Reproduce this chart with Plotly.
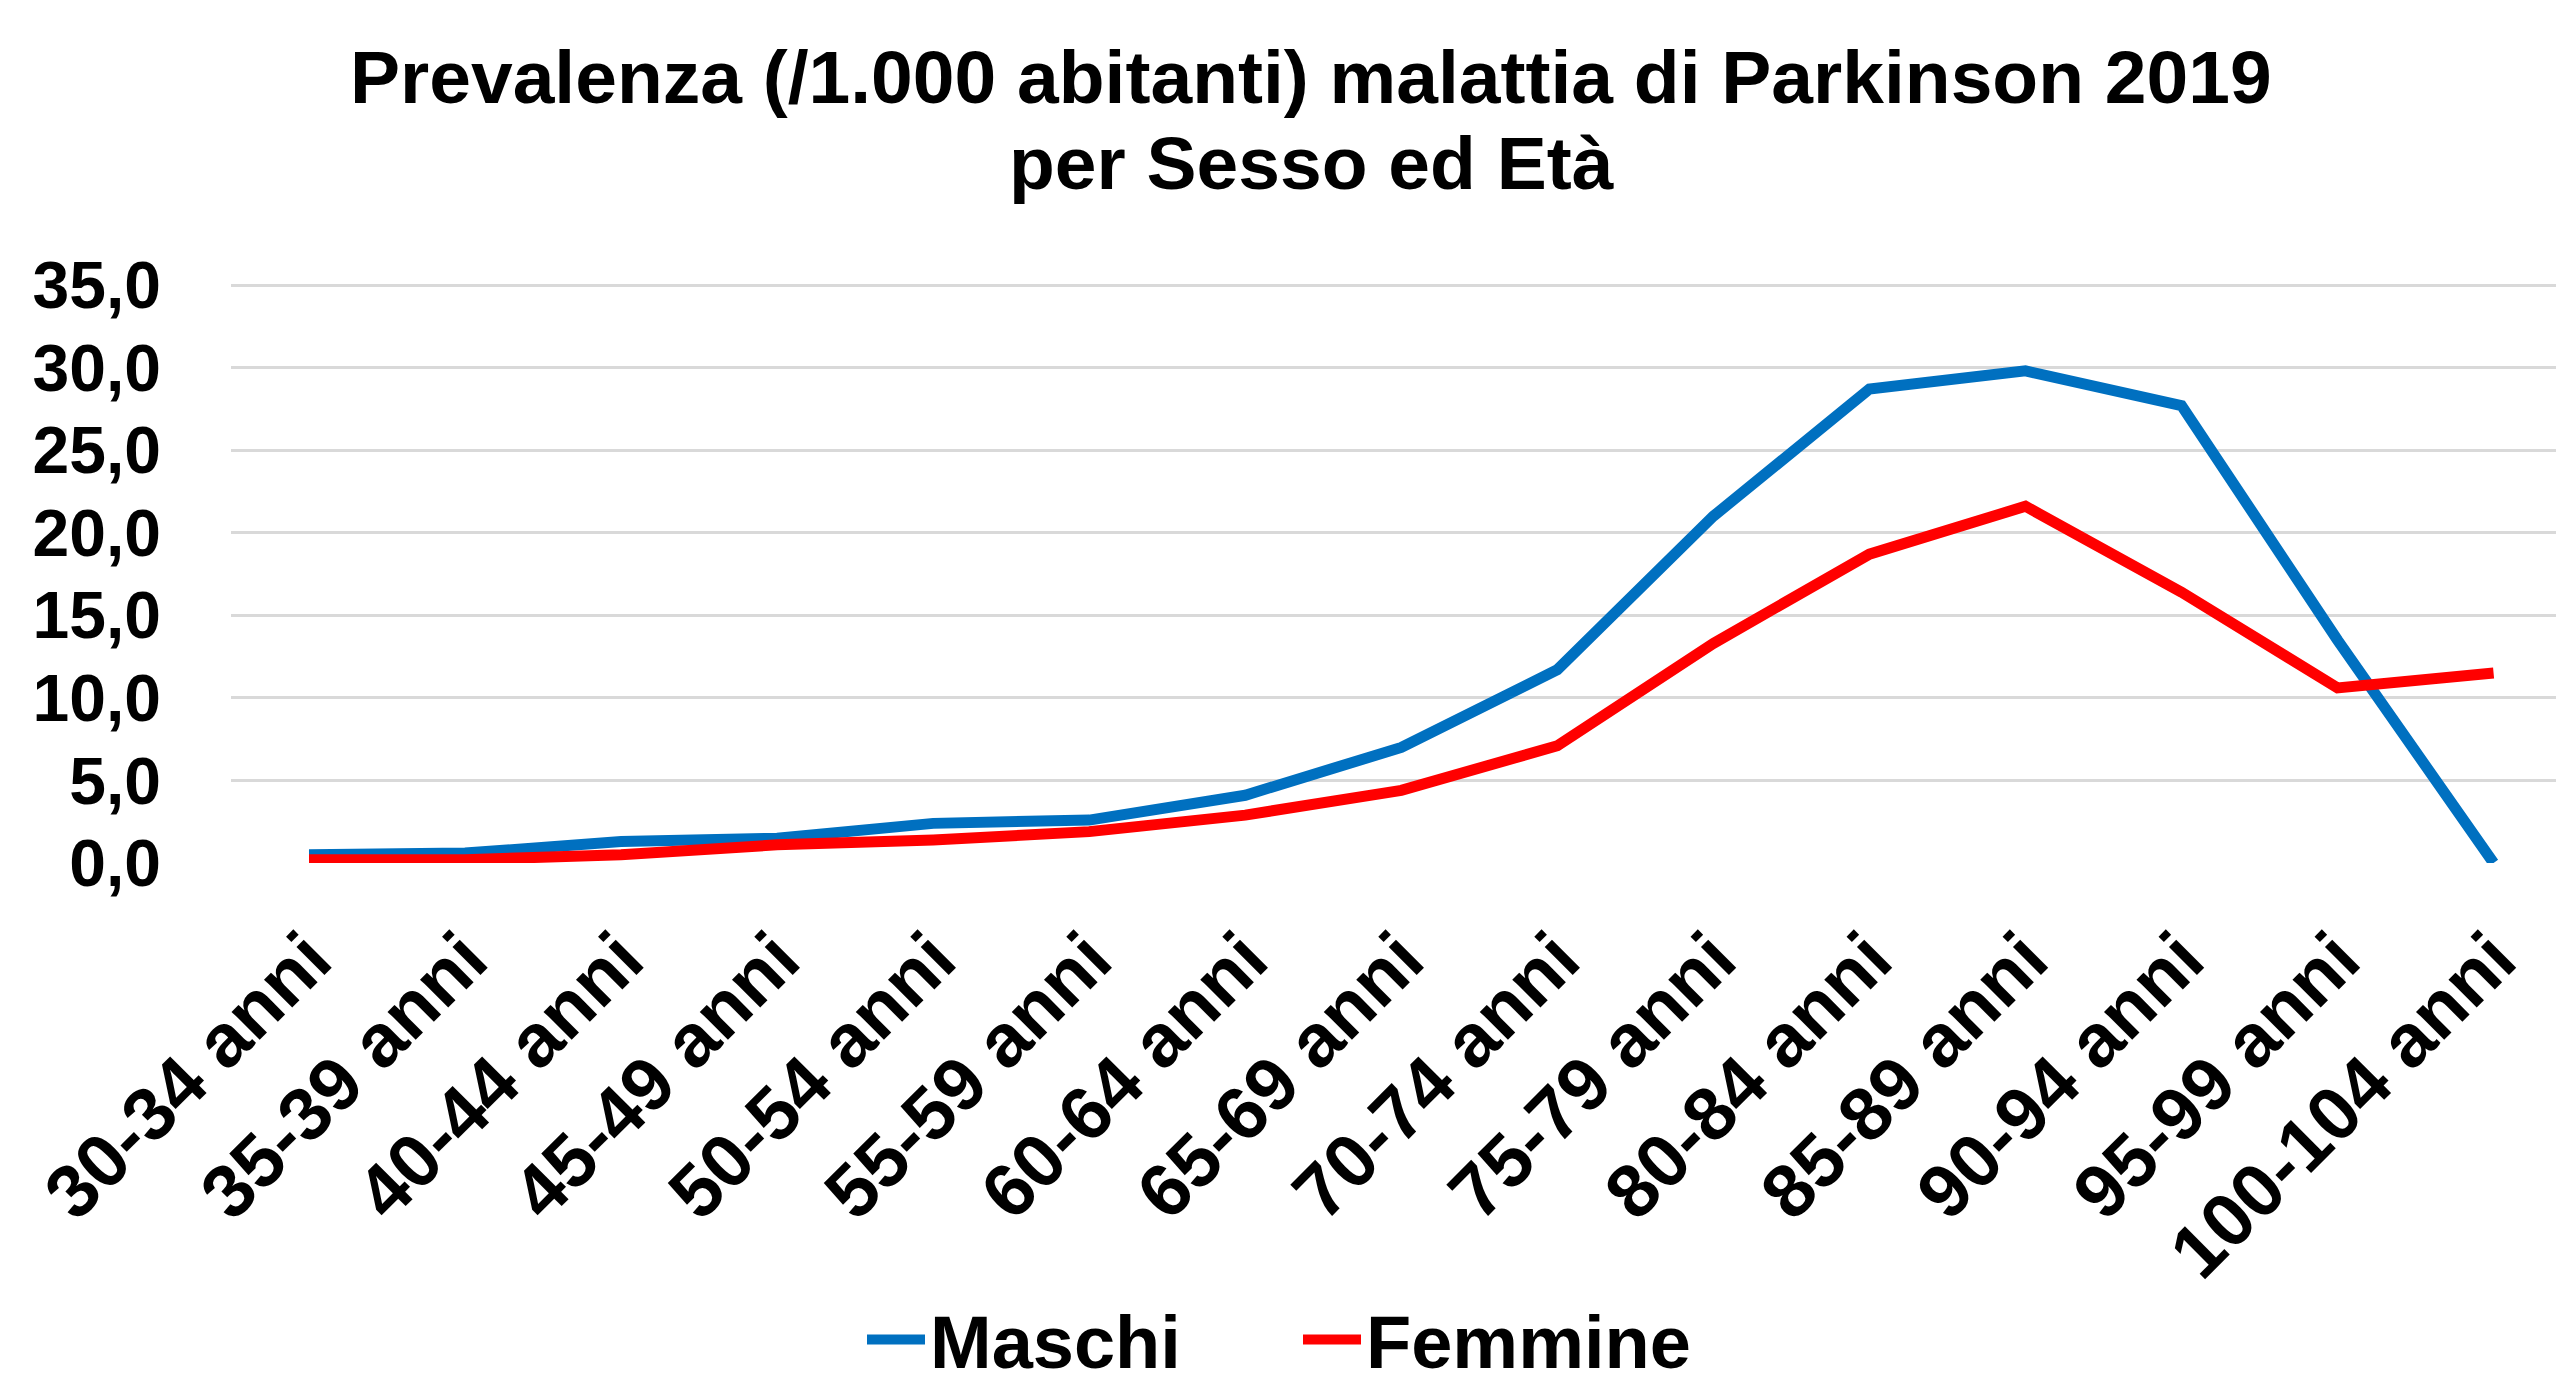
import plotly.graph_objects as go

categories = ["30-34 anni", "35-39 anni", "40-44 anni", "45-49 anni", "50-54 anni",
              "55-59 anni", "60-64 anni", "65-69 anni", "70-74 anni", "75-79 anni",
              "80-84 anni", "85-89 anni", "90-94 anni", "95-99 anni", "100-104 anni"]
maschi = [0.5, 0.6, 1.3, 1.5, 2.4, 2.6, 4.1, 7.0, 11.7, 21.0, 28.7, 29.8, 27.7, 13.5, 0.0]
femmine = [0.2, 0.2, 0.5, 1.1, 1.4, 1.9, 2.9, 4.4, 7.1, 13.3, 18.7, 21.6, 16.4, 10.6, 11.5]
y_ticks = [0, 5, 10, 15, 20, 25, 30, 35]
y_tick_text = ["0,0", "5,0", "10,0", "15,0", "20,0", "25,0", "30,0", "35,0"]
title_lines = ["Prevalenza (/1.000 abitanti) malattia di Parkinson 2019", "per Sesso ed Età"]

W, H = 2556, 1384
L, B = 231, 863
PX_PER_UNIT = (863 - 285) / 35.0
Y_TOP = 35.15
T = round(B - Y_TOP * PX_PER_UNIT)
FONT = "Liberation Sans, Arial, sans-serif"


def px_to_paper_x(px):
    return (px - L) / (W - L)


def px_to_paper_y(py):
    return (B - py) / (B - T)


fig = go.Figure()
fig.add_trace(go.Scatter(x=categories, y=maschi, mode="lines", name="Maschi",
                         line=dict(color="#0070C0", width=11)))
fig.add_trace(go.Scatter(x=categories, y=femmine, mode="lines", name="Femmine",
                         line=dict(color="#FF0000", width=11)))

for line_text, ypx in zip(title_lines, [77, 163]):
    fig.add_annotation(
        text=line_text, showarrow=False,
        x=px_to_paper_x(1311), y=px_to_paper_y(ypx), xref="paper", yref="paper",
        xanchor="center", yanchor="middle",
        font=dict(family=FONT, size=75, color="black", weight="bold"),
    )

fig.update_layout(
    width=W, height=H,
    paper_bgcolor="white", plot_bgcolor="white",
    margin=dict(l=L, r=0, t=T, b=H - B, autoexpand=False),
    showlegend=True,
    legend=dict(
        orientation="h", x=862 / W, xref="container", xanchor="left",
        y=1 - 1340 / H, yref="container", yanchor="middle",
        font=dict(family=FONT, size=74, color="black", weight="bold"),
        itemwidth=58, entrywidth=363, entrywidthmode="pixels",
    ),
    xaxis=dict(
        type="category", range=[-0.5, 14.4], tickangle=-45,
        showgrid=False, zeroline=False, showline=False, ticks="",
        tickfont=dict(family=FONT, size=75, color="black", weight="bold"),
        ticklabelstandoff=36,
        automargin=False,
    ),
    yaxis=dict(
        range=[0, (B - T) / PX_PER_UNIT], tickvals=y_ticks, ticktext=y_tick_text,
        showgrid=True, gridcolor="#D9D9D9", gridwidth=3, zeroline=False,
        showline=False, ticks="",
        tickfont=dict(family=FONT, size=66, color="black", weight="bold"),
        ticklabelstandoff=69,
        automargin=False,
    ),
)

fig.write_html(
    "out.html",
    config={"displayModeBar": False},
    post_script="document.body.style.margin='0';document.body.style.overflow='hidden';",
)
